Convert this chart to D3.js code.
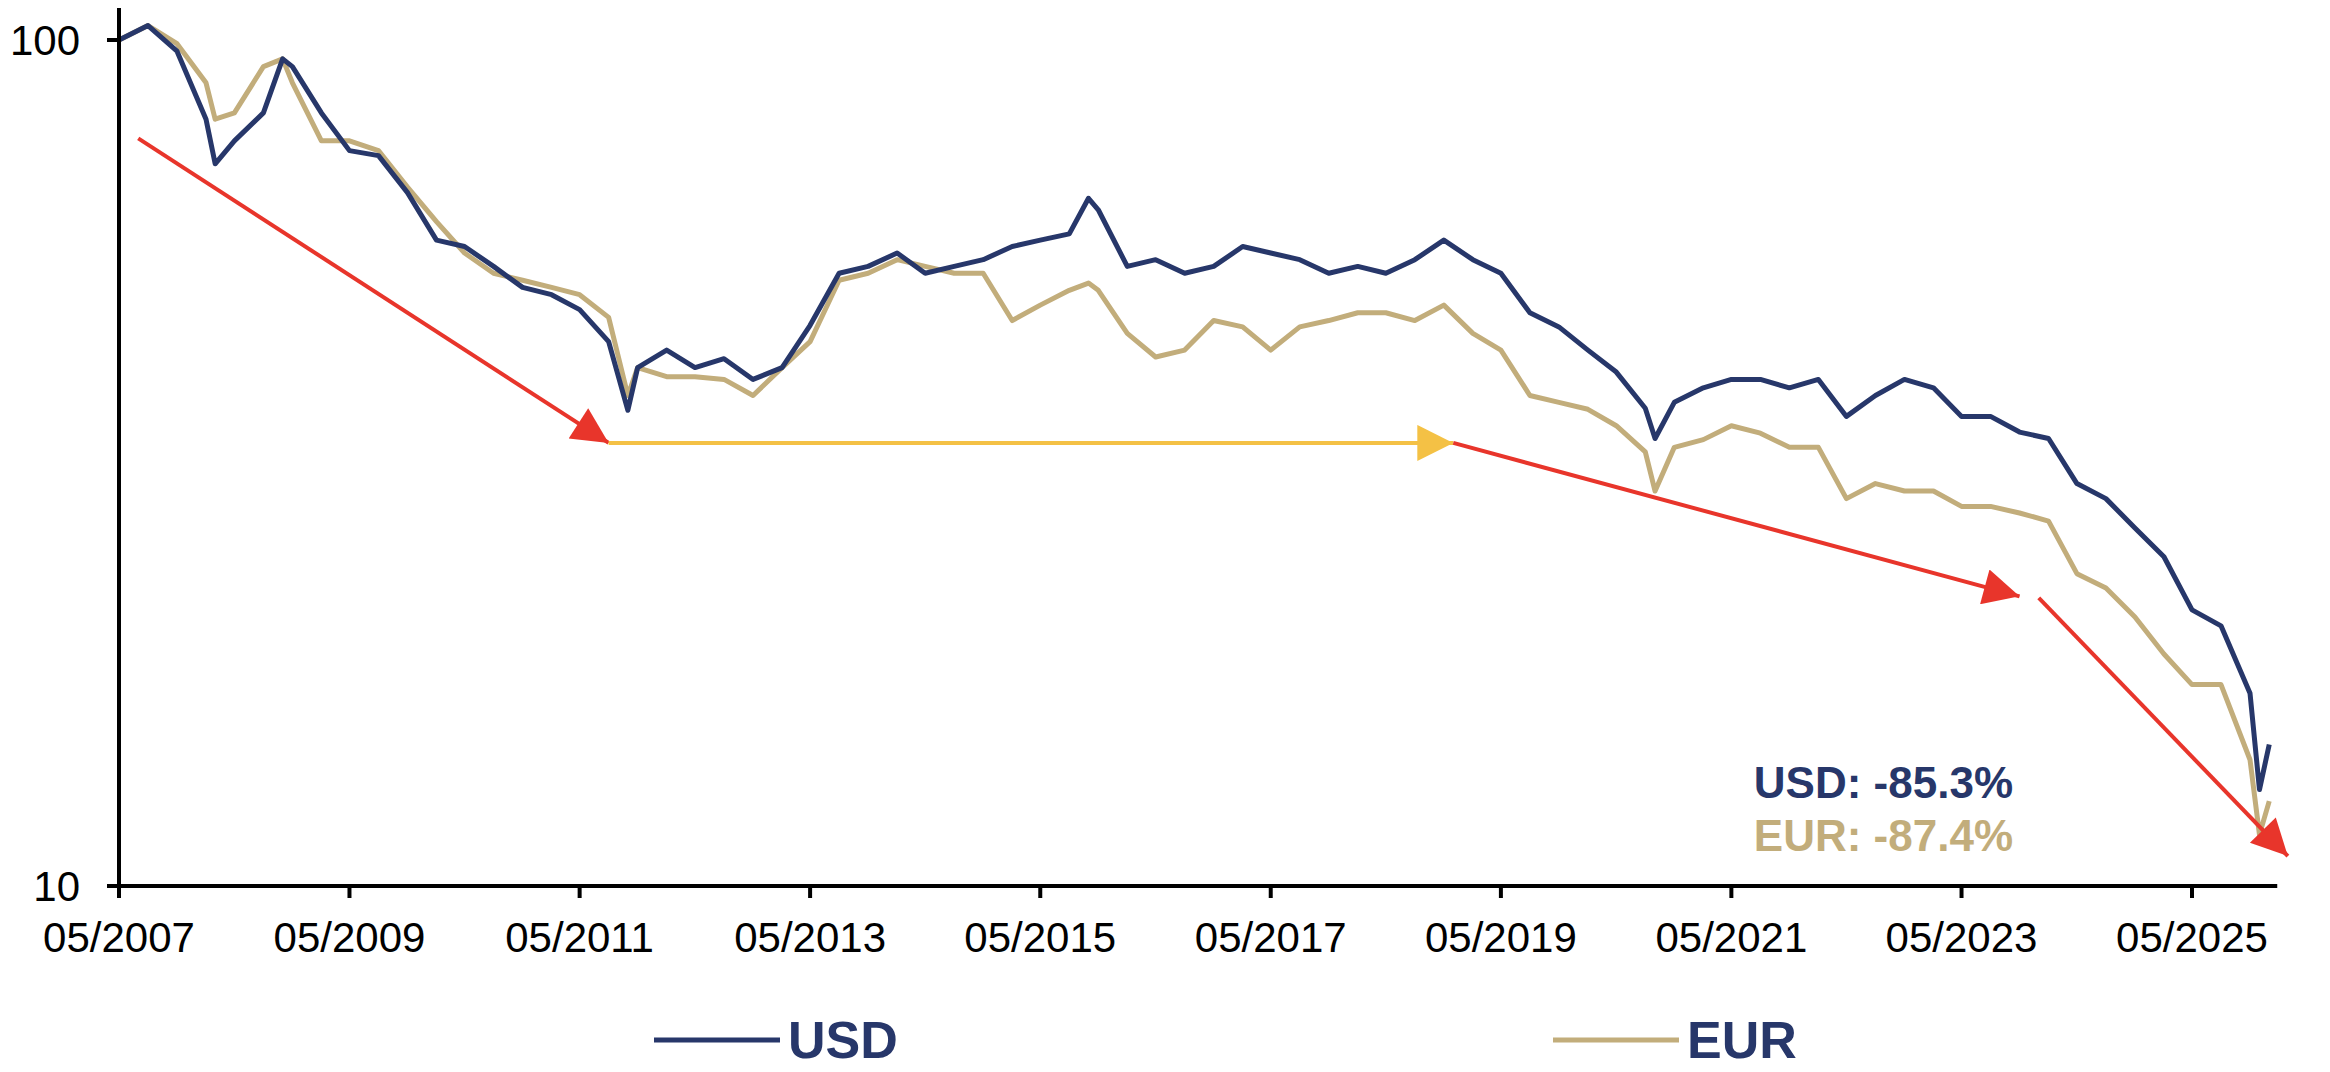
<!DOCTYPE html>
<html>
<head>
<meta charset="utf-8">
<script src="https://cdn.jsdelivr.net/npm/d3@7"></script>
<style>
  body { margin: 0; background: #fff; }
  text { font-family: "Liberation Sans", Arial, sans-serif; }
</style>
</head>
<body>
<svg id="chart"></svg>
<script>
// dates and index values (start = 100)
const dates = ['2007-05','2007-08','2007-11','2008-02','2008-03','2008-05','2008-08','2008-10','2008-11',
  '2009-02','2009-05','2009-08','2009-11','2010-02','2010-05','2010-08','2010-11','2011-02','2011-05',
  '2011-08','2011-10','2011-11','2012-02','2012-05','2012-08','2012-11','2013-02','2013-05','2013-08',
  '2013-11','2014-02','2014-05','2014-08','2014-11','2015-02','2015-05','2015-08','2015-10','2015-11',
  '2016-02','2016-05','2016-08','2016-11','2017-02','2017-05','2017-08','2017-11','2018-02','2018-05',
  '2018-08','2018-11','2019-02','2019-05','2019-08','2019-11','2020-02','2020-05','2020-08','2020-09',
  '2020-11','2021-02','2021-05','2021-08','2021-11','2022-02','2022-05','2022-08','2022-11','2023-02',
  '2023-05','2023-08','2023-11','2024-02','2024-05','2024-08','2024-11','2025-02','2025-05','2025-08',
  '2025-11','2025-12','2026-01']

const usd = [100,104,97,80.6,71.4,76,82,95,93,
  82,74,73,66,58,57,54,51,50,48,
  44,36.5,41,43,41,42,39.7,41,46,53,
  54,56,53,54,55,57,58,59,65,63,
  54,55,53,54,57,56,55,53,54,53,
  55,58,55,53,47.6,45.8,43,40.5,36.7,33.8,
  37.3,38.8,39.7,39.7,38.8,39.7,35.9,38,39.7,38.8,
  35.9,35.9,34.4,33.8,29.9,28.7,26.5,24.5,21.2,20.3,
  16.9,13,14.7]

const eur = [100,104,99,89,80.6,82,93,95,89,
  76,76,74,67,61,56,53,52,51,50,
  47,38,41,40,40,39.7,38,41,44,52,
  53,55,54,53,53,46.6,48.6,50.6,51.6,50.6,
  45,42.2,43,46.6,45.8,43,45.8,46.6,47.6,47.6,
  46.6,48.6,45,43,38,37.3,36.6,35,32.6,29.3,
  33,33.7,35,34.3,33,33,28.7,29.9,29.3,29.3,
  28.1,28.1,27.6,27,23.4,22.5,20.8,18.8,17.3,17.3,
  14.1,11.5,12.6]

const xTicks = ['2007-05','2009-05','2011-05','2013-05','2015-05','2017-05','2019-05','2021-05','2023-05','2025-05']
const yTicks = [10, 100]

// trend arrows: [date, value] pairs
const arrows = [
  { c: '#e8352b', pts: [['2007-07', 76.5], ['2011-08', 33.4]] },
  { c: '#f4c145', pts: [['2011-08', 33.4], ['2018-12', 33.4]] },
  { c: '#e8352b', pts: [['2018-12', 33.4], ['2023-11', 22.0]] },
  { c: '#e8352b', pts: [['2024-01', 21.9], ['2026-03', 10.85]] }
]

const navy = '#27376a', gold = '#c2ad7b'
const W = 2330, H = 1072
const parse = d3.timeParse('%Y-%m')

const svg = d3.select('#chart').attr('width', W).attr('height', H)

const x = d3.scaleTime()
    .domain([parse('2007-05'), parse('2025-05')])
    .range([119, 2192])
const y = d3.scaleLog().domain([10, 100]).range([886, 40])

const defs = svg.append('defs')
;['#e8352b', '#f4c145'].forEach((c, i) => {
    defs.append('marker')
        .attr('id', 'ah' + i)
        .attr('markerUnits', 'userSpaceOnUse')
        .attr('viewBox', '0 0 10 10')
        .attr('refX', 10).attr('refY', 5)
        .attr('markerWidth', 40).attr('markerHeight', 36)
        .attr('orient', 'auto')
        .append('path').attr('d', 'M0,0 L10,5 L0,10 Z').attr('fill', c)
})

const line = d3.line().x(d => x(d[0])).y(d => y(d[1]))

const series = [
    { vals: eur, c: gold },
    { vals: usd, c: navy }
]
series.forEach(s => {
    svg.append('path')
        .datum(dates.map((d, i) => [parse(d), s.vals[i]]))
        .attr('d', line)
        .attr('fill', 'none')
        .attr('stroke', s.c)
        .attr('stroke-width', 5)
        .attr('stroke-linejoin', 'round')
})

arrows.forEach(a => {
    svg.append('path')
        .datum(a.pts.map(p => [parse(p[0]), p[1]]))
        .attr('d', line)
        .attr('stroke', a.c)
        .attr('stroke-width', 4)
        .attr('fill', 'none')
        .attr('marker-end', a.c === '#f4c145' ? 'url(#ah1)' : 'url(#ah0)')
})

// axes
const xEnd = x(parse('2026-01')) + 8
svg.append('line').attr('x1', 119).attr('x2', 119).attr('y1', 8).attr('y2', 898)
    .attr('stroke', '#000').attr('stroke-width', 4)
svg.append('line').attr('x1', 107).attr('x2', xEnd).attr('y1', y(10)).attr('y2', y(10))
    .attr('stroke', '#000').attr('stroke-width', 4)

yTicks.forEach(t => {
    svg.append('line').attr('x1', 107).attr('x2', 119).attr('y1', y(t)).attr('y2', y(t))
        .attr('stroke', '#000').attr('stroke-width', 4)
    svg.append('text').attr('x', 80).attr('y', y(t) + 15)
        .attr('text-anchor', 'end').attr('font-size', 42).text(t)
})
xTicks.forEach(t => {
    const xx = x(parse(t))
    svg.append('line').attr('x1', xx).attr('x2', xx).attr('y1', y(10)).attr('y2', y(10) + 12)
        .attr('stroke', '#000').attr('stroke-width', 4)
    svg.append('text').attr('x', xx).attr('y', 952)
        .attr('text-anchor', 'middle').attr('font-size', 42)
        .text(d3.timeFormat('%m/%Y')(parse(t)))
})

// annotations
svg.append('text').attr('x', 2013).attr('y', 798).attr('text-anchor', 'end')
    .attr('font-size', 44).attr('font-weight', 'bold').attr('fill', navy).text('USD: -85.3%')
svg.append('text').attr('x', 2013).attr('y', 851).attr('text-anchor', 'end')
    .attr('font-size', 44).attr('font-weight', 'bold').attr('fill', gold).text('EUR: -87.4%')

// legend
const legend = [{ name: 'USD', c: navy, x0: 654 }, { name: 'EUR', c: gold, x0: 1553 }]
legend.forEach(l => {
    svg.append('line').attr('x1', l.x0).attr('x2', l.x0 + 126).attr('y1', 1040).attr('y2', 1040)
        .attr('stroke', l.c).attr('stroke-width', 5)
    svg.append('text').attr('x', l.x0 + 134).attr('y', 1058)
        .attr('font-size', 52).attr('font-weight', 'bold').attr('fill', navy).text(l.name)
})
</script>
</body>
</html>
